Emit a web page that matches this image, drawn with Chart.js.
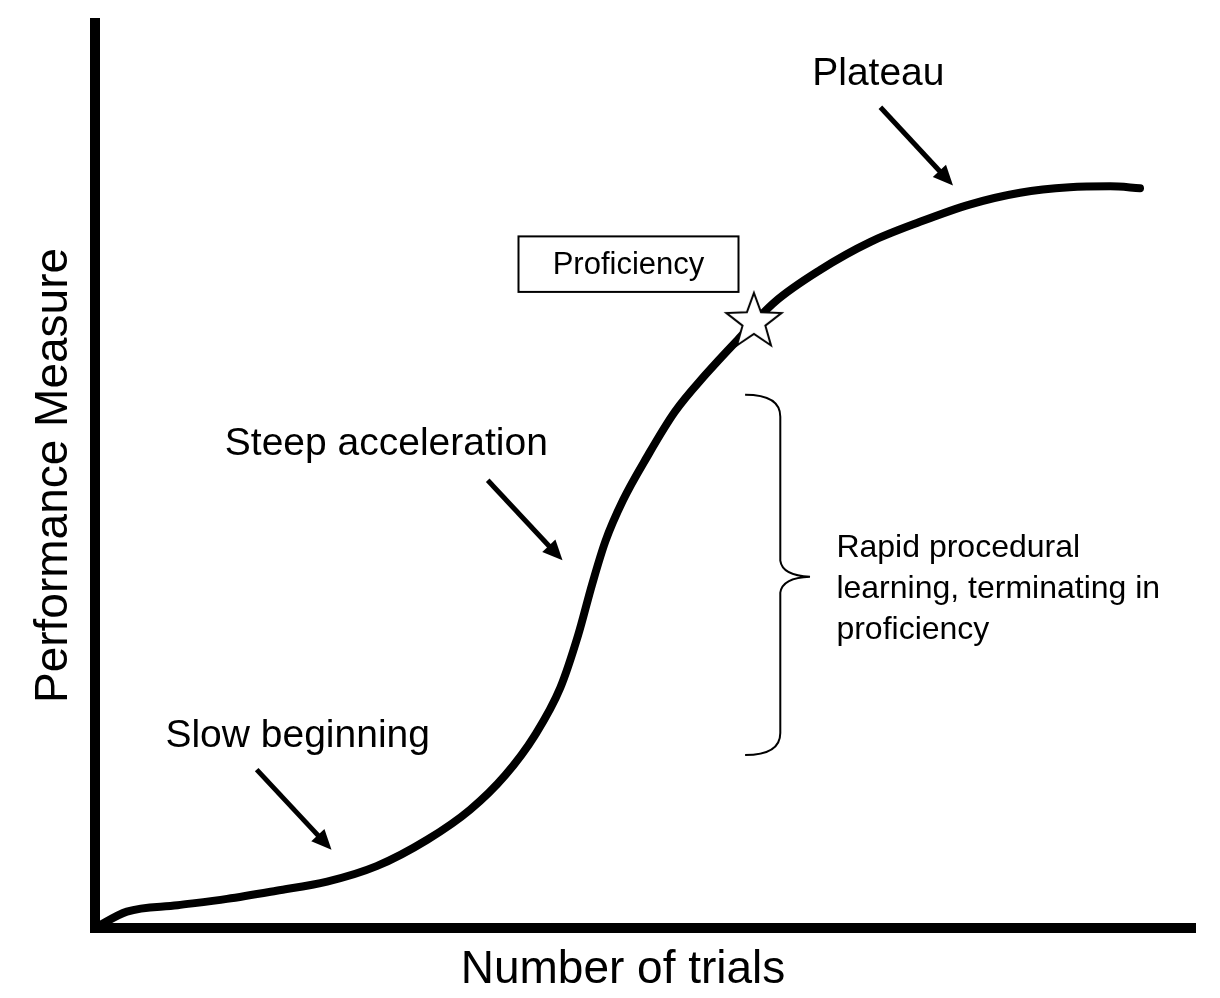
<!DOCTYPE html>
<html>
<head>
<meta charset="utf-8">
<title>Learning curve</title>
<script src="https://cdn.jsdelivr.net/npm/chart.js@4.4.1/dist/chart.umd.min.js"></script>
<style>
    html, body { margin: 0; padding: 0; background: #fff; overflow: hidden; }
    canvas { display: block; }
</style>
</head>
<body>
<canvas id="myChart" width="1220" height="998"></canvas>
<script>
// curve (trials vs performance, arbitrary 0-100 units)
const trials = [0, 2.9, 7.5, 12, 16.5, 21.1, 25.6, 30.2, 34.1, 37.3, 40, 42.3, 43.9, 45.2, 46.4, 48, 50.2, 52.7, 55.5, 58.4, 61.8, 65.9, 70.5, 75, 79.5, 84.1, 88.6, 92.3, 95]
const performance = [0, 1.8, 2.5, 3.2, 4.1, 5.1, 6.8, 9.7, 13, 16.8, 21.2, 26.4, 32.1, 37.8, 42.5, 47, 51.8, 56.7, 60.8, 64.6, 68.8, 72.3, 75.4, 77.6, 79.5, 80.8, 81.4, 81.5, 81.3]

// proficiency marker
const proficiencyTrial = [59.9]
const proficiencyLevel = [66.6]

const axisTitles = ['Number of trials', 'Performance Measure']

// annotations, in data units
const notes = {
    labels: [
        { text: 'Slow beginning', x: 6.4, y: 19.9, size: 39 },
        { text: 'Steep acceleration', x: 11.8, y: 52.0, size: 39 },
        { text: 'Plateau', x: 65.2, y: 92.6, size: 39 },
        { text: 'Rapid procedural', x: 67.4, y: 40.8, size: 32 },
        { text: 'learning, terminating in', x: 67.4, y: 36.3, size: 32 },
        { text: 'proficiency', x: 67.4, y: 31.8, size: 32 }
    ],
    arrows: [
        { from: [14.7, 17.4], to: [21.5, 8.6] },
        { from: [35.7, 49.2], to: [42.5, 40.4] },
        { from: [71.4, 90.2], to: [78.0, 81.6] }
    ],
    box: { text: 'Proficiency', x0: 38.5, x1: 58.5, y0: 69.9, y1: 76.0, size: 31 },
    brace: { xEnd: 59.1, xSpine: 62.3, xTip: 65.0, yTop: 58.6, yTip: 38.6, yBottom: 19.0 },
    xTitleCenter: 48.0
}

const fontFamily = '"Liberation Sans", Arial, Helvetica, sans-serif'

function makeStar(outer, inner) {
    const c = document.createElement('canvas')
    const size = outer * 2 + 6
    c.width = size
    c.height = size
    const g = c.getContext('2d')
    g.translate(size / 2, size / 2)
    g.beginPath()
    for (let i = 0; i < 10; i++) {
        const r = i % 2 ? inner : outer
        const a = -Math.PI / 2 + i * Math.PI / 5
        g.lineTo(r * Math.cos(a), r * Math.sin(a))
    }
    g.closePath()
    g.fillStyle = '#fff'
    g.fill()
    g.lineWidth = 2
    g.strokeStyle = '#000'
    g.stroke()
    return c
}

// draws labels, arrows, the boxed label, the brace and the x title
const annotationPlugin = {
    id: 'annotations',
    afterDatasetsDraw(chart) {
        const ctx = chart.ctx
        const xs = chart.scales.x
        const ys = chart.scales.y
        const px = v => xs.getPixelForValue(v)
        const py = v => ys.getPixelForValue(v)

        ctx.save()
        ctx.fillStyle = '#000'
        ctx.strokeStyle = '#000'
        ctx.textBaseline = 'alphabetic'

        notes.labels.forEach(l => {
            ctx.font = `${l.size}px ${fontFamily}`
            ctx.textAlign = 'left'
            ctx.fillText(l.text, px(l.x), py(l.y))
        })

        // x axis title, slightly left of the axis centre as in the original
        ctx.font = `46px ${fontFamily}`
        ctx.textAlign = 'center'
        ctx.fillText(axisTitles[0], px(notes.xTitleCenter), chart.chartArea.bottom + 55)

        notes.arrows.forEach(a => {
            const x1 = px(a.from[0]), y1 = py(a.from[1])
            const x2 = px(a.to[0]), y2 = py(a.to[1])
            const ang = Math.atan2(y2 - y1, x2 - x1)
            const headLen = 20, headW = 9
            const bx = x2 - headLen * Math.cos(ang)
            const by = y2 - headLen * Math.sin(ang)
            ctx.lineWidth = 5
            ctx.lineCap = 'butt'
            ctx.beginPath()
            ctx.moveTo(x1, y1)
            ctx.lineTo(bx + 2 * Math.cos(ang), by + 2 * Math.sin(ang))
            ctx.stroke()
            ctx.beginPath()
            ctx.moveTo(x2, y2)
            ctx.lineTo(bx + headW * Math.sin(ang), by - headW * Math.cos(ang))
            ctx.lineTo(bx - headW * Math.sin(ang), by + headW * Math.cos(ang))
            ctx.closePath()
            ctx.fill()
        })

        const b = notes.box
        ctx.lineWidth = 2
        ctx.strokeRect(px(b.x0), py(b.y1), px(b.x1) - px(b.x0), py(b.y0) - py(b.y1))
        ctx.font = `${b.size}px ${fontFamily}`
        ctx.textAlign = 'center'
        ctx.textBaseline = 'middle'
        ctx.fillText(b.text, (px(b.x0) + px(b.x1)) / 2, (py(b.y0) + py(b.y1)) / 2 + 1)

        const br = notes.brace
        const xe = px(br.xEnd), xsp = px(br.xSpine), xt = px(br.xTip)
        const yt = py(br.yTop), ym = py(br.yTip), yb = py(br.yBottom)
        const r = 22
        ctx.lineWidth = 2
        ctx.beginPath()
        ctx.moveTo(xe, yt)
        ctx.quadraticCurveTo(xsp, yt, xsp, yt + r)
        ctx.lineTo(xsp, ym - 16)
        ctx.quadraticCurveTo(xsp + 2, ym - 1, xt, ym)
        ctx.quadraticCurveTo(xsp + 2, ym + 1, xsp, ym + 16)
        ctx.lineTo(xsp, yb - r)
        ctx.quadraticCurveTo(xsp, yb, xe, yb)
        ctx.stroke()

        ctx.restore()
    }
}

const data = {
    datasets: [{
        // proficiency star, first so it sits on top of the curve
        type: 'scatter',
        data: proficiencyTrial.map((t, i) => ({ x: t, y: proficiencyLevel[i] })),
        pointStyle: makeStar(29, 12),
        pointRadius: 29
    }, {
        type: 'line',
        data: trials.map((t, i) => ({ x: t, y: performance[i] })),
        borderColor: '#000',
        borderWidth: 8,
        borderCapStyle: 'round',
        borderJoinStyle: 'round',
        cubicInterpolationMode: 'monotone',
        pointRadius: 0,
        fill: false
    }]
}

const config = {
    type: 'line',
    data: data,
    options: {
        responsive: false,
        animation: false,
        devicePixelRatio: 1,
        layout: {
            // no auto padding: the star's radius would otherwise shrink the plot
            autoPadding: false,
            padding: { top: 23, right: 25, left: 0, bottom: 70 }
        },
        plugins: {
            legend: { display: false },
            tooltip: { enabled: false }
        },
        scales: {
            x: {
                type: 'linear',
                min: 0,
                max: 100,
                grid: { display: false, drawTicks: false },
                ticks: { display: false },
                border: { display: true, width: 10, color: '#000' },
                title: { display: false }
            },
            y: {
                type: 'linear',
                min: 0,
                max: 99.45,
                grid: { display: false, drawTicks: false },
                ticks: { display: false },
                border: { display: true, width: 10, color: '#000' },
                title: {
                    display: true,
                    text: axisTitles[1],
                    color: '#000',
                    font: { family: fontFamily, size: 46, lineHeight: 1 },
                    padding: { top: 31, bottom: 18 }
                }
            }
        }
    },
    plugins: [annotationPlugin]
}

const myChart = new Chart(document.getElementById('myChart'), config)
</script>
</body>
</html>
